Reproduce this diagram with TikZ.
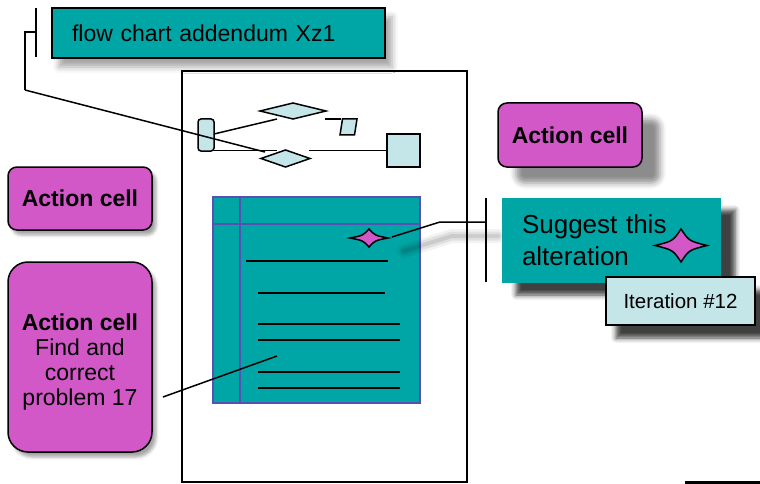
\documentclass[tikz,border=0pt]{standalone}
\usepackage{fontspec}
\setmainfont{Liberation Sans}
\usetikzlibrary{shadows.blur,shapes.geometric}
\definecolor{tealc}{HTML}{00A6A6}
\definecolor{magc}{HTML}{D258C8}
\definecolor{lcyan}{HTML}{C5E6E9}
\definecolor{docedge}{HTML}{5A50B4}
\tikzset{
  box/.style={anchor=north west, inner sep=0pt, outer sep=0pt},
  actioncell/.style={box, fill=magc, draw=black, line width=1.5pt, align=center,
     font=\fontsize{23pt}{25pt}\selectfont},
  flowshape/.style={fill=lcyan, draw=black, line width=1.5pt, inner sep=0pt, outer sep=0pt},
  conn/.style={draw=black, line width=1.5pt},
  docline/.style={draw=black, line width=1.5pt},
  starshape/.style={fill=magc, draw=black, line width=1.5pt, line join=miter},
}
\begin{document}
\begin{tikzpicture}[x=1pt,y=-1pt]
\useasboundingbox (0,0) rectangle (760,484);

% page
\node[box, draw=black, line width=1.5pt, fill=white, minimum width=285pt, minimum height=411pt] (page) at (182,71) {};

% title box
\node[box, fill=tealc, draw=black, line width=2pt, minimum width=333pt, minimum height=50pt,
      text width=293pt, inner xsep=20pt, align=left, font=\fontsize{23pt}{28pt}\selectfont,
      blur shadow={shadow xshift=7pt, shadow yshift=-9pt, shadow opacity=35, shadow blur radius=6pt}]
      (title) at (52,8) {flow chart addendum Xz1};

% title bracket
\coordinate (tbtop) at (36,8);
\coordinate (tbbot) at (36,57);
\coordinate (tbmid) at (36,32);
\coordinate (tbcorner) at (25,32);
\coordinate (tbdown) at (25,90);
\coordinate (tbend) at (265,152);
\draw[conn] (tbtop) -- (tbbot);
\draw[conn] (tbmid) -- (tbcorner) -- (tbdown);

% mini flowchart
\node[flowshape, rounded corners=3pt, minimum width=16pt, minimum height=32pt] (rr) at (206,135) {};
\node[flowshape, diamond, minimum width=66pt, minimum height=16pt] (dtop) at (293,111) {};
\node[flowshape, diamond, minimum width=49pt, minimum height=17pt] (dbot) at (285.5,158.5) {};
\node[flowshape, minimum width=33pt, minimum height=33pt] (sq) at (403.5,150.5) {};
\draw[flowshape] (342.5,119) -- (357,119) -- (354.5,135) -- (340,135) -- cycle;
\coordinate (para) at (341,119);
\coordinate (l1a) at (214,134);
\coordinate (l1b) at (277,119);
\coordinate (l2a) at (325,119);
\coordinate (l3a) at (214,150.5);
\coordinate (l3b) at (277,150.5);
\coordinate (l4a) at (309,150.5);
\draw[conn] (l1a) -- (l1b);
\draw[conn] (l2a) -- (para);
\draw[conn] (l3a) -- (l3b);
\draw[conn] (l4a) -- (sq.west);
\draw[conn] (tbdown) -- (tbend);

% document box
\node[box, fill=tealc, draw=docedge, line width=1.5pt, minimum width=207pt, minimum height=206pt] (doc) at (213,197) {};
\draw[docedge, line width=1.5pt] (240,197) -- (240,403);
\draw[docedge, line width=1.5pt] (213,224) -- (420,224);
\draw[docline] (246,261) -- (388,261);
\draw[docline] (258,293) -- (385,293);
\draw[docline] (258,324) -- (400,324);
\draw[docline] (258,340) -- (400,340);
\draw[docline] (258,372) -- (400,372);
\draw[docline] (258,388) -- (400,388);

% small star
\draw[starshape] (388,238) .. controls (375,235.5) .. (369,229) .. controls (363,235.5) .. (350,238)
   .. controls (363,240.5) .. (369,247) .. controls (375,240.5) .. cycle;

% connector shadow
\foreach \w/\o in {14/0.05,9/0.07,4/0.09}
  \draw[line width=\w pt, black, opacity=\o, line cap=round] (404,251) -- (452,236) -- (498,236);

% star -> suggest connector
\coordinate (starend) at (392,237);
\coordinate (bend) at (440,222);
\coordinate (brmid) at (486,222);
\coordinate (brtop) at (486,198);
\coordinate (brbot) at (486,282);
\draw[conn] (starend) -- (bend) -- (brmid);
\draw[conn] (brtop) -- (brbot);

% suggest box
\node[box, fill=tealc, minimum width=219pt, minimum height=85pt, text width=179pt, inner xsep=20pt,
      align=left, font=\fontsize{26pt}{32pt}\selectfont,
      blur shadow={shadow xshift=14pt, shadow yshift=-12pt, shadow opacity=75, shadow blur radius=5pt}]
      (suggest) at (502,198) {Suggest this\\alteration};
\draw[starshape] (707,245.5) .. controls (689,241) .. (681,229) .. controls (673,241) .. (655,245.5)
   .. controls (673,250) .. (681,262) .. controls (689,250) .. cycle;

% iteration box
\node[box, fill=lcyan, draw=black, line width=2pt, minimum width=149pt, minimum height=48pt,
      font=\fontsize{20.5pt}{24pt}\selectfont,
      blur shadow={shadow xshift=10pt, shadow yshift=-13pt, shadow opacity=75, shadow blur radius=5pt}]
      (iter) at (606,277) {Iteration \#12};

% action cells
\node[actioncell, rounded corners=9pt, minimum width=144pt, minimum height=64pt,
      blur shadow={shadow xshift=18pt, shadow yshift=-16pt, shadow opacity=45, shadow blur radius=6pt}]
      (actR) at (498,103) {\textbf{Action cell}};
\node[actioncell, rounded corners=9pt, minimum width=144pt, minimum height=63pt,
      blur shadow={shadow xshift=4pt, shadow yshift=-5pt, shadow opacity=35, shadow blur radius=3pt}]
      (actL) at (8,167) {\textbf{Action cell}};
\node[actioncell, rounded corners=20pt, minimum width=144pt, minimum height=190pt,
      blur shadow={shadow xshift=4pt, shadow yshift=-5pt, shadow opacity=35, shadow blur radius=3pt},
      label={[font=\fontsize{23pt}{25pt}\selectfont, align=center, yshift=-5pt]center:{\textbf{Action cell}\\Find and\\correct\\problem 17}}]
      (actB) at (8,262) {};

\coordinate (probA) at (163,397);
\coordinate (probB) at (277,356);
\draw[conn] (probA) -- (probB);

% bottom right line
\coordinate (brl) at (685,482.5);
\coordinate (brr) at (760,482.5);
\draw[line width=2.5pt] (brl) -- (brr);
\end{tikzpicture}
\end{document}
